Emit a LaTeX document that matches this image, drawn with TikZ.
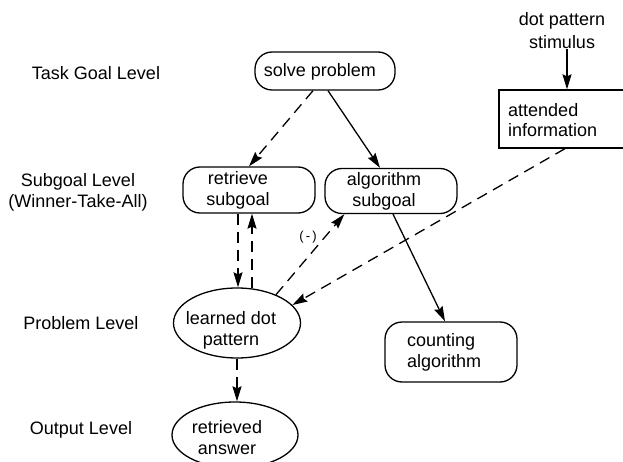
\documentclass[tikz,border=0pt]{standalone}
\usepackage{fontspec}
\setmainfont{Liberation Sans}
\usetikzlibrary{arrows.meta,calc,shapes.geometric}
\begin{document}
\begin{tikzpicture}[x=1pt,y=-1pt,
  txt/.style={font=\fontsize{18}{21}\selectfont, align=center, inner sep=0pt},
  pill/.style={draw, line width=1.3pt, rounded corners=17pt, inner sep=0pt},
  oval/.style={draw, ellipse, line width=1.3pt, inner sep=0pt},
  plainbox/.style={draw, rectangle, line width=1.3pt, inner sep=0pt},
  link/.style={line width=1.3pt, -{Stealth[length=15pt,width=9pt,inset=2pt]}},
  dlink/.style={link, dash pattern=on 11pt off 7pt}]
\useasboundingbox (0,0) rectangle (623,462);
\fill[white] (0,0) rectangle (623,462);
\clip (0,0) rectangle (623,462);

% level captions
\node[txt] (lTask) at (96,73) {Task Goal Level};
\node[txt] (lSub) at (78,192) {Subgoal Level\\(Winner-Take-All)};
\node[txt] (lProb) at (81,323) {Problem Level};
\node[txt] (lOut) at (81,430) {Output Level};

% goal and subgoal chunks
\node[pill, minimum width=140pt, minimum height=38pt] (solve) at (325,71) {};
\node[txt] (solveT) at (320,72) {solve problem};
\node[pill, minimum width=132pt, minimum height=46pt] (retr) at (249,190) {};
\node[txt] (retrT) at (238,190) {retrieve\\subgoal};
\node[pill, minimum width=132pt, minimum height=45pt] (algo) at (391,191) {};
\node[txt] (algoT) at (384,191) {algorithm\\subgoal};

% problem and output chunks
\node[oval, minimum width=127pt, minimum height=70pt] (learned) at (237,323) {};
\node[txt] (learnedT) at (231,330) {learned dot\\pattern};
\node[oval, minimum width=126pt, minimum height=66pt] (answer) at (235,435) {};
\node[txt] (answerT) at (227,438) {retrieved\\answer};
\node[pill, minimum width=132pt, minimum height=60pt] (count) at (451,352) {};
\node[txt, anchor=west, align=left] (countT) at (407,352) {counting\\algorithm};

% perceptual input (box runs off the right edge)
\node[txt, font=\fontsize{18}{23}\selectfont] (stim) at (562,31) {dot pattern\\stimulus};
\node[plainbox, minimum width=151pt, minimum height=58pt] (attn) at (574.5,119) {};
\node[txt, anchor=west, align=left, font=\fontsize{18}{20}\selectfont] (attnT) at (508,120) {attended\\information};

% connections
\coordinate (s1) at ($(stim.south)+(5,0)$);
\draw[link] (s1) -- (s1 |- attn.north);
\draw[dlink] ($(solve.south)+(-12,0)$) -- (retr.north);
\draw[link] ($(solve.south)+(3,0)$) -- ($(algo.north)+(-11,0)$);
\draw[dlink] ($(retr.south)+(-11,0)$) -- ($(learned.north)+(1,0)$);
\draw[dlink] ($(learned.north)+(15,1)$) -- ($(retr.south)+(3,0)$);
\draw[dlink] (learned.36) -- ($(algo.south west)+(20,0)$);
\node[font=\fontsize{13}{15}\selectfont, inner sep=0pt] (neg) at (308,237) {(\,-\,)};
\draw[dlink] ($(attn.south)+(-9.5,0)$) -- (learned.18);
\draw[link] ($(algo.south)+(2,0)$) -- ($(count.north)+(-6,0)$);
\draw[dlink] (learned.south) -- (learned.south |- answer.north);
\end{tikzpicture}
\end{document}
